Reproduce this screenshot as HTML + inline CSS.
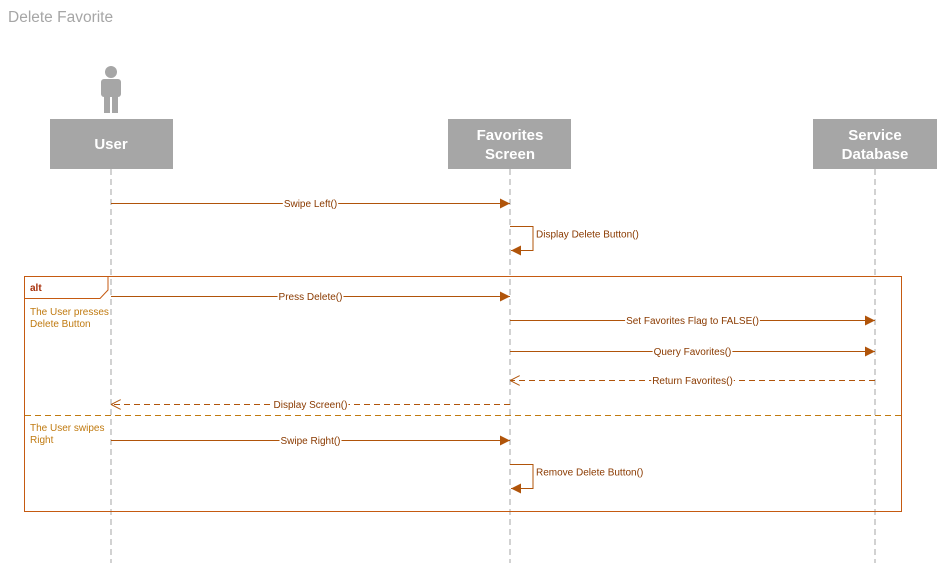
<!DOCTYPE html>
<html><head><meta charset="utf-8"><style>
body{margin:0;background:#fff;}
text{font-family:"Liberation Sans",sans-serif;}
</style></head><body>
<svg id="d" width="939" height="563" viewBox="0 0 939 563">
<defs>
<marker id="fa" viewBox="0 0 10 10" refX="10" refY="5" markerWidth="10" markerHeight="10" markerUnits="userSpaceOnUse" orient="auto"><path d="M0,0L10,5L0,10z" fill="#b0540a"/></marker>
<marker id="oa" viewBox="0 0 10 10" refX="10" refY="5" markerWidth="10" markerHeight="10" markerUnits="userSpaceOnUse" orient="auto"><path d="M0,0L10,5L0,10" fill="none" stroke="#b0540a" stroke-width="1"/></marker>
</defs>
<text x="8" y="22" font-size="15.5" fill="#a6a6a6">Delete Favorite</text>
<g stroke="#a6a6a6" stroke-dasharray="6,4">
<line x1="111" y1="169" x2="111" y2="563"/><line x1="510" y1="169" x2="510" y2="563"/><line x1="875" y1="169" x2="875" y2="563"/>
</g>
<g fill="#a6a6a6">
<circle cx="111" cy="72" r="6"/><rect x="101" y="79" width="20" height="18" rx="3"/><rect x="104" y="95" width="6" height="18"/><rect x="112" y="95" width="6" height="18"/>
</g>
<g><rect x="50" y="119" width="123" height="50" fill="#a6a6a6"/><text x="111" y="149" font-size="15" font-weight="bold" fill="#fff" text-anchor="middle">User</text></g>
<g><rect x="448" y="119" width="123" height="50" fill="#a6a6a6"/><text x="510" y="140" font-size="15" font-weight="bold" fill="#fff" text-anchor="middle">Favorites</text><text x="510" y="159" font-size="15" font-weight="bold" fill="#fff" text-anchor="middle">Screen</text></g>
<g><rect x="813" y="119" width="124" height="50" fill="#a6a6a6"/><text x="875" y="140" font-size="15" font-weight="bold" fill="#fff" text-anchor="middle">Service</text><text x="875" y="159" font-size="15" font-weight="bold" fill="#fff" text-anchor="middle">Database</text></g>
<g>
<rect x="24.5" y="276.5" width="877" height="235" fill="none" stroke="#c55a11" stroke-width="1"/>
<path d="M24.5,298.5H100L108,290V276.5" fill="none" stroke="#c55a11"/>
<text x="30" y="291" font-size="10" font-weight="bold" fill="#a8300a">alt</text>
<text x="30" y="315" font-size="10" fill="#c07a10">The User presses</text>
<text x="30" y="327" font-size="10" fill="#c07a10">Delete Button</text>
<line x1="25" y1="415.5" x2="901" y2="415.5" stroke="#c07a10" stroke-dasharray="6,4"/>
<text x="30" y="431" font-size="10" fill="#c07a10">The User swipes</text>
<text x="30" y="443" font-size="10" fill="#c07a10">Right</text>
</g>
<g id="msgs"></g>
</svg>
<script>
const labels=["Swipe Left()","Press Delete()","Set Favorites Flag to FALSE()","Query Favorites()","Return Favorites()","Display Screen()","Swipe Right()"];
const fromX=[111,111,510,510,875,510,111];
const toX=[510,510,875,875,510,111,510];
const msgY=[203,296,320,351,380,404,440];
const dashed=[0,0,0,0,1,1,0];
const selfLabels=["Display Delete Button()","Remove Delete Button()"];
const selfY=[226,464];
const g=document.getElementById('msgs');const NS='http://www.w3.org/2000/svg';
function mk(t,a){const e=document.createElementNS(NS,t);for(const k in a)e.setAttribute(k,a[k]);return e;}
labels.forEach((l,i)=>{
 const y=msgY[i]+0.5;const grp=mk('g',{});
 
 
 const ln=mk('line',{x1:fromX[i],y1:y,x2:toX[i],y2:y,stroke:'#b0540a','stroke-width':1,'marker-end':dashed[i]?'url(#oa)':'url(#fa)'});
 if(dashed[i])ln.setAttribute('stroke-dasharray','6,4');
 grp.appendChild(ln);
 const cx=(fromX[i]+toX[i])/2;
 const t=mk('text',{x:cx,y:y+3.5,'font-size':10,fill:'#8a3a00','text-anchor':'middle'});t.textContent=l;
 grp.appendChild(t);g.appendChild(grp);
 const bb=t.getBBox();const r=mk('rect',{x:bb.x-1,y:bb.y,width:bb.width+2,height:bb.height,fill:'#fff'});grp.insertBefore(r,t);
});
selfLabels.forEach((l,i)=>{
 const y=selfY[i]+0.5;const grp=mk('g',{});
 
 
 grp.appendChild(mk('path',{d:`M510,${y}H533V${y+24}H511`,fill:'none',stroke:'#b0540a','marker-end':'url(#fa)'}));
 const t=mk('text',{x:536,y:y+11,'font-size':10,fill:'#8a3a00'});t.textContent=l;grp.appendChild(t);
 g.appendChild(grp);
});
</script>
</body></html>
